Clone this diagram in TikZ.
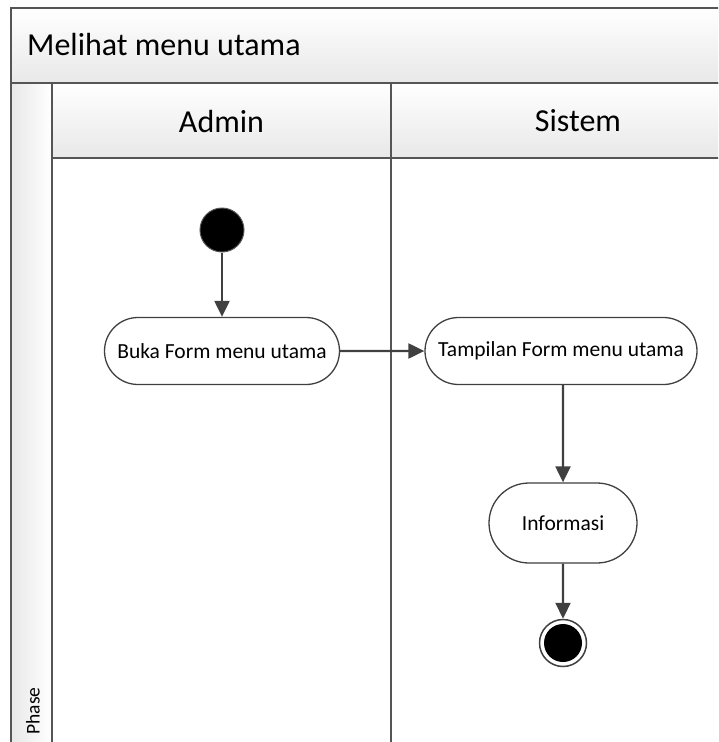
\documentclass[tikz,border=0pt]{standalone}
\usepackage{fontspec}
\setmainfont{Carlito}
\usetikzlibrary{calc}
\usetikzlibrary{shapes.misc,arrows.meta}
\definecolor{linegray}{HTML}{555555}
\definecolor{flowgray}{HTML}{404040}
\definecolor{hdrgray}{HTML}{E8E8E8}
\tikzset{
  band/.style={draw=linegray,line width=1.5pt,top color=white,bottom color=hdrgray},
  action/.style={rounded rectangle,draw=flowgray,line width=1.3pt,fill=white,
    inner sep=0pt,minimum height=67pt,font=\fontsize{21.5}{25}\selectfont},
  flow/.style={draw=flowgray,line width=2.2pt,-{Triangle[length=16pt,width=15pt]}}
}

\begin{document}
\begin{tikzpicture}[x=1pt,y=-1pt]
    \useasboundingbox (0,0) rectangle (718,742);
    \clip (0,0) rectangle (718,742);
    \coordinate (TopLeft) at (11,8);
    \coordinate (TitleBase) at (11,83);
    \coordinate (Split) at (391,83);
    % frame, title band and lane headers
    \draw [band] (TopLeft) rectangle (780,83);
    \draw [draw=linegray,line width=1.5pt,left color=hdrgray,right color=white] (TitleBase) rectangle (52,780);
    \draw [band] (52,83) rectangle (780,158);
    \draw [linegray,line width=1.5pt] (52,158)--(52,780);
    \draw [linegray,line width=1.5pt] (Split)--(391,780);
    \node[anchor=west,inner sep=0pt,font=\fontsize{32}{36}\selectfont] (title) at (27,45) {Melihat menu utama};
    \node[font=\fontsize{32}{36}\selectfont] (admin) at (221.5,121) {Admin};
    \node[font=\fontsize{32}{36}\selectfont] (sistem) at (578,121) {Sistem};
    \node[rotate=90,inner sep=0pt,font=\fontsize{19.5}{22}\selectfont] (phase) at (33,711) {Phase};
    % activities
    \node[circle,fill=black,draw=linegray,line width=1pt,inner sep=0pt,minimum size=44pt] (start) at (222,230) {};
    \node[action,minimum width=235pt] (buka) at (222,351) {Buka Form menu utama};
    \node[action,minimum width=272pt] (tampil) at (561,351) {Tampilan Form menu utama};
    \node[action,minimum width=148pt,minimum height=80pt] (info) at (563,523) {Informasi};
    \node[circle,fill=white,draw=flowgray,line width=1.5pt,inner sep=0pt,minimum size=47pt] (stop) at (563,643) {};
    \fill [black] (stop.center) circle (19pt);
    \draw [flow] (start)--(buka);
    \draw [flow] (buka)--(tampil);
    \draw [flow] (tampil.south -| info.north)--(info);
    \draw [flow] (info)--(stop);
  \end{tikzpicture}
\end{document}
